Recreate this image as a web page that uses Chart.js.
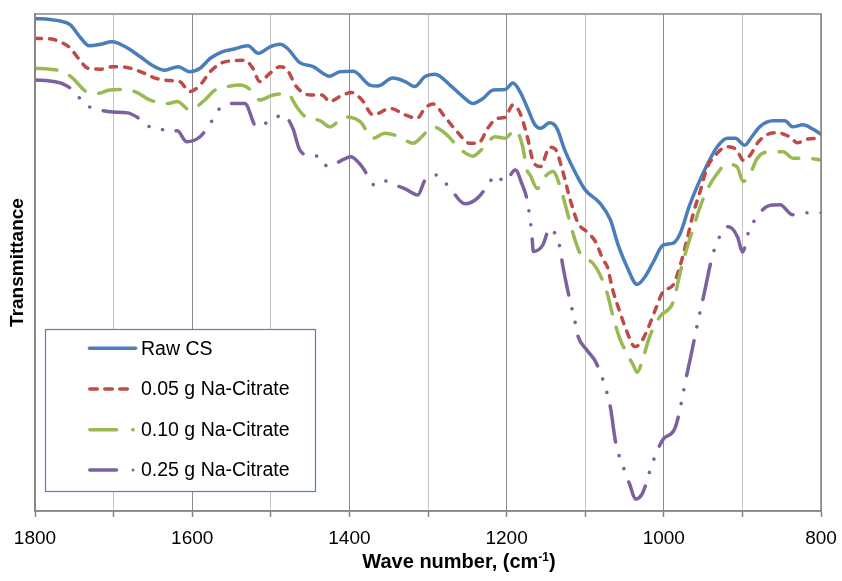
<!DOCTYPE html>
<html>
<head>
<meta charset="utf-8">
<title>FTIR spectra</title>
<script src="https://cdn.jsdelivr.net/npm/chart.js@4.4.0/dist/chart.umd.min.js"></script>
<style>
  html, body { margin: 0; padding: 0; background: #ffffff; }
  #wrap { width: 842px; height: 581px; position: relative; }
</style>
</head>
<body>
<div id="wrap"><canvas id="chart" width="842" height="581"></canvas></div>
<script>
// ---------------- data ----------------
const seriesNames = ['Raw CS', '0.05 g Na-Citrate', '0.10 g Na-Citrate', '0.25 g Na-Citrate'];
const xTickLabels = [1800, 1600, 1400, 1200, 1000, 800];
const xAxisTitle = ['Wave number, (cm', '-1', ')'];
const yAxisTitle = 'Transmittance';

const rawWn = [1800,1781,1768,1755,1743,1731,1717,1702,1685,1666,1651,1635,1618,1603,1590,1577,1562,1548,1529,1516,1501,1488,1479,1463,1446,1425,1412,1395,1374,1364,1345,1329,1317,1304,1291,1272,1253,1243,1230,1217,1202,1192,1183,1174,1164,1157,1145,1136,1126,1110,1100,1081,1068,1058,1047,1034,1024,1013,1001,988,979,967,945,932,919,909,897,888,878,861,846,836,823,810,800];
const rawT  = [99.1,98.9,98.6,97.8,95.4,93.6,93.9,94.4,93.4,91.4,89.7,88.7,89.4,88.4,89.1,91.1,92.4,92.9,93.6,92.1,93.4,93.9,93.1,90.2,89.4,87.5,88.4,88.5,85.7,85.5,87.1,86.4,85.4,87.4,87.9,85.7,83.0,82.0,83.0,84.7,84.8,86.1,84.4,81.3,77.7,77.0,78.1,77.0,72.6,67.3,64.6,61.9,58.6,53.5,49.2,45.6,47.1,50.2,53.5,53.9,55.9,61.6,69.6,73.3,75.0,75.0,73.6,75.3,77.3,78.5,78.5,77.3,77.7,76.8,75.8];

const c005Wn = [1800,1781,1768,1755,1743,1733,1717,1701,1685,1666,1647,1628,1616,1603,1590,1577,1562,1548,1533,1523,1514,1501,1488,1479,1467,1450,1435,1425,1412,1397,1384,1370,1348,1329,1314,1304,1294,1278,1263,1247,1236,1224,1212,1202,1192,1183,1174,1166,1157,1145,1138,1129,1119,1109,1098,1087,1077,1072,1065,1056,1047,1037,1030,1021,1011,1001,988,979,970,963,954,945,932,920,907,899,890,881,869,856,839,830,818,800];
const c005T  = [95.1,95.0,94.4,93.1,90.7,89.1,88.9,89.4,89.3,88.4,87.1,86.6,86.4,84.4,85.7,88.4,90.2,90.6,90.7,89.1,86.4,88.1,89.4,88.7,85.3,83.7,83.7,82.4,83.4,84.2,82.7,79.7,81.0,79.7,79.0,81.0,81.9,79.2,76.3,74.0,74.0,77.0,79.0,79.2,81.7,80.1,75.5,70.3,69.3,73.2,72.8,68.6,62.6,57.9,56.2,54.2,50.5,49.2,44.5,40.1,36.1,33.1,33.7,36.4,40.4,44.1,45.5,49.5,54.9,59.6,64.2,69.0,72.0,73.3,72.6,70.6,71.6,74.0,75.7,76.1,75.2,74.1,74.8,75.0];

const c010Wn = [1800,1781,1764,1752,1736,1721,1705,1685,1670,1654,1631,1619,1603,1584,1571,1554,1539,1523,1514,1497,1479,1467,1456,1437,1425,1406,1386,1370,1355,1336,1319,1308,1294,1278,1266,1255,1243,1230,1215,1202,1189,1180,1174,1170,1161,1151,1141,1132,1124,1115,1107,1090,1081,1072,1065,1056,1047,1039,1034,1026,1018,1005,988,979,970,963,954,945,932,920,907,899,890,881,865,848,836,818,800];
const c010T  = [89.1,88.9,88.4,87.1,84.5,84.0,84.7,84.8,84.2,82.7,82.0,82.4,80.7,82.7,84.7,85.4,85.7,84.4,82.7,83.7,84.0,81.3,79.3,78.5,77.3,79.3,78.3,75.0,76.0,75.3,74.0,75.3,77.3,76.0,74.0,72.3,71.4,73.0,75.3,75.0,76.7,73.6,68.6,67.6,64.9,67.3,68.3,65.3,60.8,55.6,52.0,49.8,47.5,43.8,39.4,34.7,31.7,29.4,27.9,31.0,35.1,39.1,42.1,48.1,53.2,56.7,61.1,64.6,67.9,69.8,69.3,66.3,67.9,71.0,72.3,72.3,71.0,71.0,70.6];

const c025Wn = [1800,1781,1764,1752,1736,1720,1701,1682,1666,1654,1641,1632,1619,1607,1590,1577,1565,1549,1533,1518,1501,1484,1472,1463,1450,1437,1428,1414,1398,1384,1367,1355,1342,1329,1313,1304,1289,1272,1253,1236,1221,1215,1202,1189,1180,1174,1168,1166,1154,1145,1141,1132,1129,1125,1121,1113,1109,1098,1086,1071,1067,1064,1061,1050,1043,1036,1027,1016,1009,1000,986,969,965,961,957,949,945,941,936,918,906,900,892,878,867,852,836,818,800];
const c025T  = [86.7,86.5,85.9,84.7,81.8,80.8,80.3,80.1,78.8,77.3,77.0,76.3,76.5,74.3,75.3,78.0,81.0,82.0,82.0,77.3,78.5,79.7,77.0,72.6,71.5,71.3,69.3,70.2,71.3,69.3,65.5,66.4,65.6,64.8,63.6,66.5,67.6,64.9,61.8,63.1,66.3,67.6,66.3,68.6,65.6,62.6,55.9,52.2,53.5,56.9,56.5,52.9,49.8,46.5,43.5,38.1,35.1,32.4,29.8,23.0,20.0,16.6,13.6,8.2,5.2,2.4,3.6,8.9,11.9,14.6,16.6,28.7,31.6,34.7,37.8,43.5,46.5,49.5,52.5,57.2,55.1,52.1,56.2,59.9,61.4,61.6,59.6,60.0,60.0];

// ---------------- styling ----------------
const FONT = "'Liberation Sans', Arial, Helvetica, sans-serif";
const colors = ['#4A7EBB', '#BE4B48', '#98B954', '#7D60A0'];
const dashes = [[], [6.5, 8], [22, 14], [36, 14, 0.1, 14, 0.1, 14]];

function toPoints(xs, ys) { return xs.map((x, i) => ({ x: x, y: ys[i] })); }
const seriesData = [toPoints(rawWn, rawT), toPoints(c005Wn, c005T), toPoints(c010Wn, c010T), toPoints(c025Wn, c025T)];

const datasets = seriesNames.map((name, i) => ({
  label: name,
  data: seriesData[i],
  borderColor: colors[i],
  backgroundColor: colors[i],
  borderWidth: 3.5,
  borderDash: dashes[i],
  borderCapStyle: 'round',
  borderJoinStyle: 'round',
  pointRadius: 0,
  cubicInterpolationMode: 'monotone',
  fill: false,
  order: 3 - i
}));

// frame round the plot area
const framePlugin = {
  id: 'frame',
  afterDatasetsDraw(chart) {
    const { ctx, chartArea: ca } = chart;
    ctx.save();
    ctx.strokeStyle = '#868686';
    ctx.lineWidth = 1.5;
    ctx.setLineDash([]);
    ctx.strokeRect(ca.left, ca.top, ca.right - ca.left, ca.bottom - ca.top);
    ctx.restore();
  }
};

// boxed legend inside the plot area
const boxLegendPlugin = {
  id: 'boxLegend',
  afterDatasetsDraw(chart) {
    const { ctx, chartArea: ca } = chart;
    const bx = ca.left + 10, by = ca.top + 315, bw = 270, bh = 162;
    ctx.save();
    ctx.fillStyle = '#ffffff';
    ctx.fillRect(bx, by, bw, bh);
    ctx.strokeStyle = '#4F81BD';
    ctx.lineWidth = 1.2;
    ctx.setLineDash([]);
    ctx.strokeRect(bx + 0.5, by + 0.5, bw, bh);
    const rows = [19.3, 60, 100.7, 141];
    const x0 = bx + 43;
    chart.data.datasets.forEach((ds, i) => {
      const y = by + rows[i];
      ctx.strokeStyle = ds.borderColor;
      ctx.fillStyle = ds.borderColor;
      ctx.lineWidth = 3.5;
      ctx.lineCap = 'round';
      if (i === 0) {
        ctx.setLineDash([]);
        ctx.beginPath(); ctx.moveTo(x0 + 1.5, y); ctx.lineTo(x0 + 47.5, y); ctx.stroke();
      } else if (i === 1) {
        ctx.setLineDash([7.5, 7.5]);
        ctx.beginPath(); ctx.moveTo(x0 + 1.8, y); ctx.lineTo(x0 + 41, y); ctx.stroke();
      } else {
        ctx.setLineDash([]);
        ctx.beginPath(); ctx.moveTo(x0 + 1.8, y); ctx.lineTo(x0 + 28.5, y); ctx.stroke();
        ctx.beginPath(); ctx.arc(x0 + 45, y, i === 2 ? 1.9 : 1.5, 0, Math.PI * 2); ctx.fill();
      }
      ctx.setLineDash([]);
      ctx.fillStyle = '#000000';
      ctx.font = '19.5px ' + FONT;
      ctx.textAlign = 'left';
      ctx.textBaseline = 'middle';
      ctx.fillText(ds.label, bx + 96, y + 1);
    });
    ctx.restore();
  }
};

// x-axis title with superscript
const xTitlePlugin = {
  id: 'xTitle',
  afterDraw(chart) {
    const { ctx, chartArea: ca } = chart;
    ctx.save();
    const mainFont = 'bold 20px ' + FONT;
    const supFont = 'bold 12px ' + FONT;
    ctx.font = mainFont; const w1 = ctx.measureText(xAxisTitle[0]).width;
    const w3 = ctx.measureText(xAxisTitle[2]).width;
    ctx.font = supFont; const w2 = ctx.measureText(xAxisTitle[1]).width;
    const total = w1 + w2 + w3;
    const cx = (ca.left + ca.right) / 2 + 31;
    let x = cx - total / 2;
    const base = 568;
    ctx.fillStyle = '#000000';
    ctx.textAlign = 'left';
    ctx.textBaseline = 'alphabetic';
    ctx.font = mainFont; ctx.fillText(xAxisTitle[0], x, base); x += w1;
    ctx.font = supFont; ctx.fillText(xAxisTitle[1], x, base - 7); x += w2;
    ctx.font = mainFont; ctx.fillText(xAxisTitle[2], x, base);
    ctx.restore();
  }
};

new Chart(document.getElementById('chart'), {
  type: 'line',
  data: { datasets: datasets },
  plugins: [framePlugin, boxLegendPlugin, xTitlePlugin],
  options: {
    responsive: false,
    animation: false,
    devicePixelRatio: 1,
    layout: { padding: { top: 14, right: 21, left: 0, bottom: 0 } },
    plugins: { legend: { display: false }, tooltip: { enabled: false }, title: { display: false } },
    scales: {
      x: {
        type: 'linear',
        reverse: true,
        min: 800,
        max: 1800,
        ticks: {
          stepSize: 100,
          autoSkip: false,
          maxRotation: 0,
          padding: 10,
          color: '#000000',
          font: { family: FONT, size: 19 },
          callback: (v) => xTickLabels.includes(v) ? String(v) : ''
        },
        grid: {
          color: (c) => (c.tick && c.tick.value % 200 === 0) ? '#8A8A8A' : '#C4C4C4',
          lineWidth: 1,
          drawTicks: true,
          tickLength: 6,
          tickColor: '#868686',
          tickWidth: 1.5
        },
        border: { display: true, color: '#868686', width: 1.5 },
        title: { display: false },
        afterFit: (s) => { s.height = 70; s.paddingLeft = 0; s.paddingRight = 0; }
      },
      y: {
        min: 0,
        max: 100,
        ticks: { display: false },
        grid: { display: false, drawTicks: false },
        border: { display: true, color: '#868686', width: 1.5 },
        title: {
          display: true,
          text: yAxisTitle,
          color: '#000000',
          font: { family: FONT, size: 19, weight: 'bold', lineHeight: 1 },
          padding: { top: 8.5, bottom: 0 }
        },
        afterFit: (s) => { s.width = 35; }
      }
    }
  }
});
</script>
</body>
</html>
